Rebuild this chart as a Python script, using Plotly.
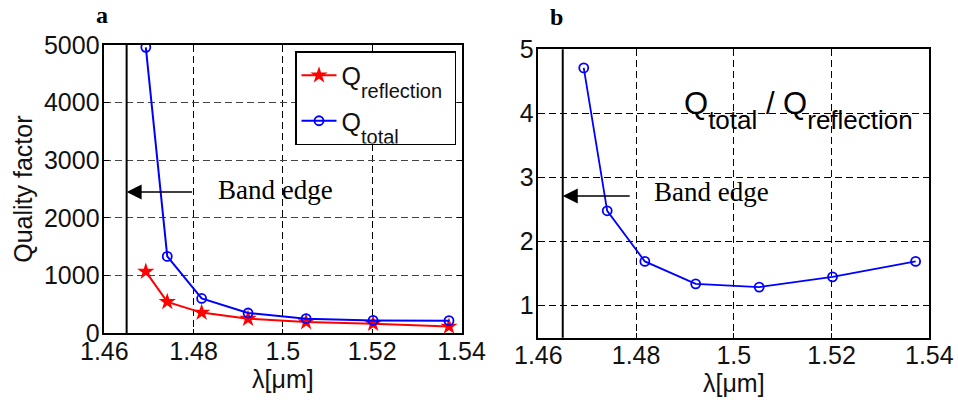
import plotly.graph_objects as go

# ---- data ----
wavelength = [1.4693, 1.4741, 1.4818, 1.4922, 1.5052, 1.5202, 1.5372]
q_total = [4960, 1333, 604, 352, 254, 224, 219]
q_reflection = [1070, 545, 359, 254, 195, 166, 119]
ratio = [4.71, 2.48, 1.69, 1.34, 1.29, 1.45, 1.69]
band_edge = 1.465
x_ticks = [1.46, 1.48, 1.50, 1.52, 1.54]
x_tick_labels = ["1.46", "1.48", "1.5", "1.52", "1.54"]
q_ticks = [0, 1000, 2000, 3000, 4000, 5000]
ratio_ticks = [1, 2, 3, 4, 5]

W, H = 958, 402
SANS = "Liberation Sans, Arial, sans-serif"
SERIF = "Liberation Serif, Times New Roman, serif"


def px_x(px):
    return px / W


def px_y(py):
    return 1 - py / H


def sub(txt, size, shift):
    return f"<sub><span style=\"font-size:{size}px;baseline-shift:-{shift}px\">{txt}</span></sub>"


fig = go.Figure()

fig.add_trace(go.Scatter(
    x=wavelength, y=q_reflection, mode="lines+markers",
    name="Q" + sub("reflection", 20, 8) + " ", legendgroup="refl",
    line=dict(color="#ff0000", width=2),
    marker=dict(symbol="star", size=13, color="#ff0000"),
    xaxis="x", yaxis="y"))
fig.add_trace(go.Scatter(
    x=wavelength, y=q_total, mode="lines+markers",
    name="Q" + sub("total", 20, 8), legendgroup="tot",
    line=dict(color="#0000ff", width=2),
    marker=dict(symbol="circle-open", size=9, color="#0000ff", line=dict(width=1.8)),
    xaxis="x", yaxis="y"))
fig.add_trace(go.Scatter(
    x=wavelength, y=ratio, mode="lines+markers", showlegend=False,
    line=dict(color="#0000ff", width=1.8),
    marker=dict(symbol="circle-open", size=9, color="#0000ff", line=dict(width=1.8)),
    xaxis="x2", yaxis="y2"))

common = dict(
    showline=True, linecolor="black", linewidth=1.5, mirror="ticks",
    ticks="inside", ticklen=5, tickcolor="black", tickwidth=1,
    showgrid=True, gridcolor="black", gridwidth=1, griddash="7px,4px",
    zeroline=False, automargin=False,
    tickfont=dict(family=SANS, size=25, color="#111"),
)
title_font = dict(family=SANS, size=25, color="#111")

fig.update_layout(
    width=W, height=H,
    margin=dict(l=0, r=0, t=0, b=0),
    paper_bgcolor="white", plot_bgcolor="white",
    xaxis=dict(domain=[px_x(104.3), px_x(461.5)], range=[1.46, 1.54],
               tickvals=x_ticks, ticktext=x_tick_labels, anchor="y",
               ticklabelstandoff=-5,
               title=dict(text="λ[μm]", font=title_font, standoff=0),
               **common),
    yaxis=dict(domain=[px_y(333.3), px_y(45)], range=[0, 5000],
               tickvals=q_ticks, anchor="x", ticklabelstandoff=-2,
               title=dict(text="Quality factor", font=title_font, standoff=4),
               **{**common, "gridcolor": "#444"}),
    xaxis2=dict(domain=[px_x(538.3), px_x(929.3)], range=[1.46, 1.54],
                tickvals=x_ticks, ticktext=x_tick_labels, anchor="y2",
                ticklabelstandoff=-5,
                title=dict(text="λ[μm]", font=title_font, standoff=0),
                **common),
    yaxis2=dict(domain=[px_y(337.7), px_y(49.3)], range=[0.5, 5],
                tickvals=ratio_ticks, anchor="x2", ticklabelstandoff=-2, **common),
    showlegend=True,
    legend=dict(x=px_x(295), y=px_y(51), xanchor="left", yanchor="top",
                bgcolor="white", bordercolor="black", borderwidth=1.5,
                font=dict(family=SANS, size=25, color="#111"),
                itemwidth=35, tracegroupgap=10),
    shapes=[
        dict(type="line", xref="x", yref="y domain", x0=band_edge, x1=band_edge, y0=0, y1=1,
             line=dict(color="black", width=2)),
        dict(type="line", xref="x2", yref="y2 domain", x0=band_edge, x1=band_edge, y0=0, y1=1,
             line=dict(color="black", width=2)),
    ],
    annotations=[
        dict(xref="x", yref="y", axref="x", ayref="y", x=band_edge, y=2450, ax=1.48, ay=2450,
             showarrow=True, arrowhead=2, arrowsize=2, arrowwidth=1.5, arrowcolor="black", text=""),
        dict(xref="x", yref="y", x=1.485, y=2480, text="Band edge", showarrow=False,
             xanchor="left", yanchor="middle", font=dict(family=SERIF, size=27, color="black")),
        dict(xref="x2", yref="y2", axref="x2", ayref="y2", x=band_edge, y=2.71, ax=1.479, ay=2.71,
             showarrow=True, arrowhead=2, arrowsize=2, arrowwidth=1.5, arrowcolor="black", text=""),
        dict(xref="x2", yref="y2", x=1.4833, y=2.78, text="Band edge", showarrow=False,
             xanchor="left", yanchor="middle", font=dict(family=SERIF, size=27, color="black")),
        dict(xref="x2", yref="y2", x=1.4895, y=4.05, showarrow=False, xanchor="left", yanchor="middle",
             text="Q" + sub("total", 26, 8) + " / Q" + sub("reflection", 26, 8),
             font=dict(family=SANS, size=31, color="black")),
        dict(xref="paper", yref="paper", x=px_x(102), y=px_y(15), text="<b>a</b>", showarrow=False,
             xanchor="center", yanchor="middle", font=dict(family=SERIF, size=24, color="black")),
        dict(xref="paper", yref="paper", x=px_x(556), y=px_y(17), text="<b>b</b>", showarrow=False,
             xanchor="center", yanchor="middle", font=dict(family=SERIF, size=24, color="black")),
    ],
)

fig.write_html("out.html")
